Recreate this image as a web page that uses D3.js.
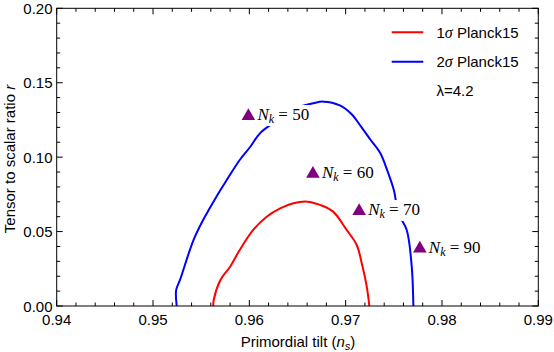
<!DOCTYPE html>
<html><head><meta charset="utf-8">
<script src="https://cdn.jsdelivr.net/npm/d3@7"></script>
<style>body{margin:0;background:#fff}svg{display:block}</style>
</head><body>
<svg id="c" width="554" height="352"></svg>
<script>
// ---- data ----
const xTicks = [0.94, 0.95, 0.96, 0.97, 0.98, 0.99];
const yTicks = [0.00, 0.05, 0.10, 0.15, 0.20];
const xTickLabels = ["0.94", "0.95", "0.96", "0.97", "0.98", "0.99"];
const yTickLabels = ["0.00", "0.05", "0.10", "0.15", "0.20"];
// 2 sigma Planck15 contour (ns, r)
const blueNs = [0.95246, 0.9524, 0.9528, 0.9542, 0.9552, 0.9559, 0.9570, 0.95765, 0.9590, 0.9601, 0.9611, 0.96267, 0.9645, 0.96665, 0.9677, 0.9694, 0.9706, 0.9716, 0.9726, 0.9736, 0.9743, 0.9750, 0.97548, 0.97634, 0.97686, 0.97703];
const blueR  = [0.0000, 0.0107, 0.0175, 0.0443, 0.0578, 0.0658, 0.0779, 0.0846, 0.0981, 0.1070, 0.1160, 0.1238, 0.1320, 0.1362, 0.1373, 0.1348, 0.1290, 0.1205, 0.1115, 0.1026, 0.0914, 0.0779, 0.0623, 0.0511, 0.0264, 0.0000];
// 1 sigma Planck15 contour (ns, r)
const redNs = [0.95626, 0.9563, 0.9570, 0.9580, 0.9590, 0.9604, 0.9618, 0.9632, 0.96457, 0.9660, 0.96734, 0.9687, 0.9701, 0.97115, 0.97167, 0.97219, 0.97246];
const redR  = [0.0000, 0.0040, 0.0175, 0.0264, 0.0376, 0.0511, 0.0600, 0.0656, 0.0690, 0.0701, 0.0679, 0.0634, 0.0511, 0.0410, 0.0287, 0.0130, 0.0000];
// model predictions
const Nk = [50, 60, 70, 90];
const nkNs = [0.9599, 0.9666, 0.9714, 0.9777];
const nkR  = [0.1283, 0.0894, 0.0645, 0.0392];
const legendLabels = ["1", "2"];
const legendColors = ["#ff0000", "#0000ff"];
const lambdaLabel = "λ=4.2";

// ---- layout ----
const svg = d3.select("#c");
const L = 56.7, R = 538.3, T = 8.3, B = 306;
const x = d3.scaleLinear().domain([0.94, 0.99]).range([L, R]);
const y = d3.scaleLinear().domain([0, 0.20]).range([B, T]);
const sans = "'Liberation Sans', Arial, Helvetica, sans-serif";
const serif = "'Liberation Serif', 'Times New Roman', serif";

svg.append("defs").append("clipPath").attr("id", "pc")
  .append("rect").attr("x", L).attr("y", T).attr("width", R - L).attr("height", B - T);

const line = d3.line().x(d => x(d[0])).y(d => y(d[1])).curve(d3.curveCatmullRom.alpha(0.5));
const plot = svg.append("g").attr("clip-path", "url(#pc)");
plot.append("path").datum(redNs.map((v, i) => [v, redR[i]]))
  .attr("d", line).attr("fill", "none").attr("stroke", "#ff0000").attr("stroke-width", 2);
plot.append("path").datum(blueNs.map((v, i) => [v, blueR[i]]))
  .attr("d", line).attr("fill", "none").attr("stroke", "#0000ff").attr("stroke-width", 2);

// markers + labels
const mk = svg.append("g");
Nk.forEach((n, i) => {
  const cx = x(nkNs[i]), cy = y(nkR[i]);
  const g = mk.append("g");
  const t = g.append("text").attr("x", cx + 9).attr("y", cy + 5)
    .attr("font-family", serif).attr("font-size", 17).attr("fill", "#000");
  t.append("tspan").attr("font-style", "italic").text("N");
  t.append("tspan").attr("font-style", "italic").attr("font-size", 12).attr("dy", 3).text("k");
  t.append("tspan").attr("dy", -3).text(" = " + n);
  const bb = t.node().getBBox();
  g.insert("rect", "text").attr("x", bb.x - 1).attr("y", bb.y)
    .attr("width", bb.width + 4).attr("height", bb.height).attr("fill", "#fff");
  g.append("path").attr("d", d3.symbol().type(d3.symbolTriangle).size(80)())
    .attr("transform", `translate(${cx},${cy + 1})`).attr("fill", "#800080");
});

// frame & ticks
const ax = svg.append("g").attr("stroke", "#000").attr("stroke-width", 1);
ax.append("rect").attr("x", L).attr("y", T).attr("width", R - L).attr("height", B - T)
  .attr("fill", "none");
const xMinor = d3.range(0, 26).map(i => 0.94 + i * 0.002);
const yMinor = d3.range(0, 21).map(i => i * 0.01);
xMinor.forEach((v, i) => {
  const len = i % 5 === 0 ? 6 : 3.5;
  ax.append("line").attr("x1", x(v)).attr("x2", x(v)).attr("y1", B).attr("y2", B - len);
  ax.append("line").attr("x1", x(v)).attr("x2", x(v)).attr("y1", T).attr("y2", T + len);
});
yMinor.forEach((v, i) => {
  const len = i % 5 === 0 ? 6 : 3.5;
  ax.append("line").attr("y1", y(v)).attr("y2", y(v)).attr("x1", L).attr("x2", L + len);
  ax.append("line").attr("y1", y(v)).attr("y2", y(v)).attr("x1", R).attr("x2", R - len);
});
svg.append("g").selectAll("text").data(xTicks).join("text")
  .attr("x", d => x(d)).attr("y", 325).attr("text-anchor", "middle")
  .attr("font-family", sans).attr("font-size", 15).text((d, i) => xTickLabels[i]);
svg.append("g").selectAll("text").data(yTicks).join("text")
  .attr("x", 52.5).attr("y", d => y(d) + 5.5).attr("text-anchor", "end")
  .attr("font-family", sans).attr("font-size", 15).text((d, i) => yTickLabels[i]);

// axis titles
const xt = svg.append("text").attr("x", 298).attr("y", 346.5).attr("text-anchor", "middle")
  .attr("font-family", sans).attr("font-size", 15);
xt.append("tspan").text("Primordial tilt (");
xt.append("tspan").attr("font-style", "italic").text("n");
xt.append("tspan").attr("font-style", "italic").attr("font-size", 11).attr("dy", 3).text("s");
xt.append("tspan").attr("dy", -3).text(")");
const yt = svg.append("text").attr("transform", "translate(15,159) rotate(-90)")
  .attr("text-anchor", "middle").attr("font-family", sans).attr("font-size", 15);
yt.append("tspan").text("Tensor to scalar ratio ");
yt.append("tspan").attr("font-style", "italic").text("r");

// legend
const lg = svg.append("g");
legendLabels.forEach((s, i) => {
  const ly = 32.3 + i * 29.4;
  lg.append("line").attr("x1", 391.7).attr("x2", 423.3).attr("y1", ly).attr("y2", ly)
    .attr("stroke", legendColors[i]).attr("stroke-width", 2);
  const t = lg.append("text").attr("x", 436.5).attr("y", ly + 5.5)
    .attr("font-family", sans).attr("font-size", 15);
  t.append("tspan").text(s);
  t.append("tspan").attr("font-family", serif).attr("font-style", "italic").attr("font-size", 16).text("σ");
  t.append("tspan").text(" Planck15");
});
lg.append("text").attr("x", 436.5).attr("y", 96).attr("font-family", sans)
  .attr("font-size", 15).text(lambdaLabel);
</script>
</body></html>
